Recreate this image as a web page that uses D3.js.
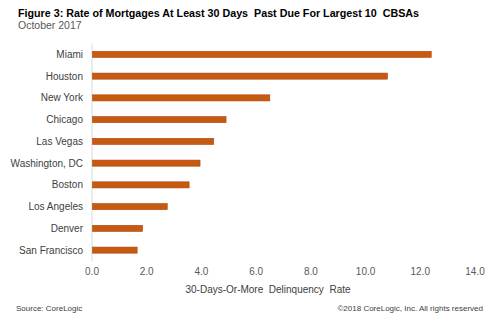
<!DOCTYPE html>
<html><head><meta charset="utf-8">
<script src="https://cdn.jsdelivr.net/npm/d3@7"></script>
<style>body{margin:0;background:#fff}svg{display:block;font-family:"Liberation Sans",Arial,sans-serif}</style>
</head><body><svg id="c" width="500" height="321"></svg>
<script>
const categories = ["Miami","Houston","New York","Chicago","Las Vegas","Washington, DC","Boston","Los Angeles","Denver","San Francisco"];
const values = [12.4, 10.8, 6.5, 4.9, 4.45, 3.95, 3.55, 2.75, 1.85, 1.65];
const xTicks = [0,2,4,6,8,10,12,14];

const svg = d3.select("#c");
const x = d3.scaleLinear().domain([0,14]).range([92,475]);
const y = d3.scaleBand().domain(categories).range([43.5,261]).paddingInner(0.72).paddingOuter(0.36);

svg.append("text").attr("x",18).attr("y",17).attr("font-size",11).attr("font-weight","bold").attr("fill","#000")
  .attr("xml:space","preserve").attr("textLength",401).attr("lengthAdjust","spacingAndGlyphs")
  .text("Figure 3: Rate of Mortgages At Least 30 Days  Past Due For Largest 10  CBSAs");
svg.append("text").attr("x",18).attr("y",28.5).attr("font-size",10.5).attr("fill","#595959").text("October 2017");

svg.append("line").attr("x1",92).attr("x2",92).attr("y1",43.5).attr("y2",261).attr("stroke","#d9d9d9").attr("stroke-width",1);

svg.selectAll("rect.bar").data(values).enter().append("rect").attr("class","bar")
  .attr("x",x(0)+0.5).attr("y",(d,i)=>y(categories[i]))
  .attr("width",d=>x(d)-x(0)-0.5).attr("height",y.bandwidth())
  .attr("fill","#c55a11").attr("stroke","#b8400c").attr("stroke-width",0.6);

svg.selectAll("text.cat").data(categories).enter().append("text").attr("class","cat")
  .attr("x",83).attr("y",d=>y(d)+y.bandwidth()/2).attr("dy","0.35em").attr("text-anchor","end")
  .attr("font-size",10).attr("fill","#404040").text(d=>d);

svg.selectAll("text.tick").data(xTicks).enter().append("text").attr("class","tick")
  .attr("x",d=>x(d)).attr("y",275).attr("text-anchor","middle").attr("font-size",10).attr("fill","#595959")
  .text(d=>d3.format(".1f")(d));

svg.append("text").attr("x",268).attr("y",293).attr("text-anchor","middle").attr("font-size",10).attr("fill","#404040")
  .attr("xml:space","preserve").text("30-Days-Or-More  Delinquency  Rate");
svg.append("text").attr("x",16).attr("y",311).attr("font-size",8).attr("fill","#404040").text("Source: CoreLogic");
svg.append("text").attr("x",483).attr("y",311).attr("text-anchor","end").attr("font-size",8).attr("fill","#404040").text("©2018 CoreLogic, Inc.  All rights reserved");
</script></body></html>
